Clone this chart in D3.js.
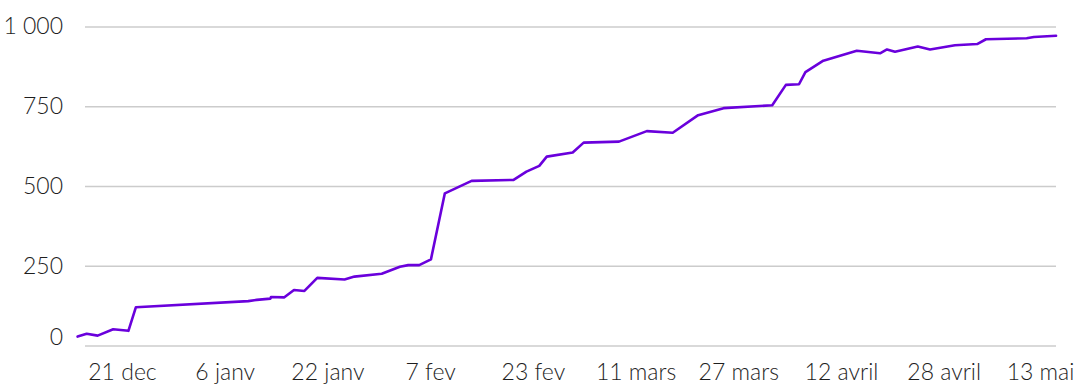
<!DOCTYPE html>
<html>
<head>
<meta charset="utf-8">
<script src="https://cdn.jsdelivr.net/npm/d3@7"></script>
<style>
  html, body { margin: 0; padding: 0; background: #ffffff; }
  svg { display: block; }
  .lbl text { font-family: Lato, "Noto Sans", sans-serif; font-size: 23px; font-weight: 300; fill: #1e1e1e; }
</style>
</head>
<body>
<svg id="chart" width="1089" height="385"></svg>
<script>
// Cumulative total, sampled at irregular times
const dates = [
  "2020-12-14 02:00", "2020-12-15 12:00", "2020-12-17 05:00", "2020-12-19 15:00",
  "2020-12-22 00:00", "2020-12-23 04:00", "2021-01-09 16:00", "2021-01-11 00:00",
  "2021-01-13 03:00", "2021-01-13 05:00", "2021-01-15 07:00", "2021-01-16 19:00",
  "2021-01-18 10:00", "2021-01-20 10:00", "2021-01-24 16:00", "2021-01-26 05:00",
  "2021-01-30 11:00", "2021-02-02 07:00", "2021-02-03 14:00", "2021-02-05 07:00",
  "2021-02-07 03:00", "2021-02-09 07:00", "2021-02-13 11:00", "2021-02-20 00:00",
  "2021-02-22 00:00", "2021-02-24 00:00", "2021-02-25 04:00", "2021-03-01 05:00",
  "2021-03-02 22:00", "2021-03-08 10:00", "2021-03-12 18:00", "2021-03-16 19:00",
  "2021-03-20 18:00", "2021-03-24 17:00", "2021-04-01 07:00", "2021-04-03 10:00",
  "2021-04-05 11:00", "2021-04-06 11:00", "2021-04-09 06:00", "2021-04-14 11:00",
  "2021-04-18 02:00", "2021-04-19 04:00", "2021-04-20 10:00", "2021-04-23 23:00",
  "2021-04-25 21:00", "2021-04-29 18:00", "2021-05-03 05:00", "2021-05-04 14:00",
  "2021-05-10 22:00", "2021-05-12 01:00", "2021-05-15 12:00"
];
const values = [
  28, 37, 31, 51,
  46, 120, 139, 143,
  147, 152, 151, 174,
  171, 212, 207, 216,
  225, 247, 252, 252,
  270, 477, 516, 519,
  545, 563, 592, 605,
  636, 639, 672, 667,
  722, 744, 753, 817,
  819, 857, 893, 924,
  916, 928, 921, 937,
  928, 941, 945, 960,
  963, 967, 971
];

// Axis ticks
const xTickDates = [
  "2020-12-21", "2021-01-06", "2021-01-22", "2021-02-07", "2021-02-23",
  "2021-03-11", "2021-03-27", "2021-04-12", "2021-04-28", "2021-05-13"
];
const xTickLabels = [
  "21 dec", "6 janv", "22 janv", "7 fev", "23 fev",
  "11 mars", "27 mars", "12 avril", "28 avril", "13 mai"
];
const yTicks = [0, 250, 500, 750, 1000];

const parseTime = d3.timeParse("%Y-%m-%d %H:%M");
const parseDay = d3.timeParse("%Y-%m-%d");
const series = dates.map((d, i) => ({ date: parseTime(d), value: values[i] }));

const svg = d3.select("#chart");

const plotLeft = 85, plotRight = 1056;
const x = d3.scaleTime()
  .domain([parseDay(xTickDates[0]), parseDay(xTickDates[xTickDates.length - 1])])
  .range([122, 1040]);
const y = d3.scaleLinear().domain([0, 1000]).range([345.5, 26.5]);

const frNum = d3.formatLocale({ decimal: ",", thousands: " ", grouping: [3], currency: ["", " €"] }).format(",");

// Horizontal gridlines
const grid = svg.append("g")
  .attr("transform", `translate(${plotLeft},0)`)
  .call(d3.axisLeft(y).tickValues(yTicks).tickSize(-(plotRight - plotLeft)).tickFormat(""));
grid.select(".domain").remove();
grid.selectAll(".tick line").attr("stroke", "#cccccc").attr("stroke-width", 1.4);

// Y labels
const yAxis = svg.append("g")
  .attr("class", "lbl")
  .attr("transform", "translate(63,0)")
  .call(d3.axisLeft(y).tickValues(yTicks).tickSize(0).tickPadding(0).tickFormat(frNum));
yAxis.select(".domain").remove();
yAxis.selectAll(".tick text")
  .attr("dy", d => d === 0 ? "-0.05em" : "0.32em");

// X labels
const xAxis = svg.append("g")
  .attr("class", "lbl")
  .attr("transform", `translate(0,${y(0)})`)
  .call(d3.axisBottom(x)
    .tickValues(xTickDates.map(parseDay))
    .tickSize(0)
    .tickFormat((d, i) => xTickLabels[i]));
xAxis.select(".domain").remove();
xAxis.selectAll(".tick text").attr("y", 34).attr("dy", 0);

// Series line
svg.append("path")
  .datum(series)
  .attr("fill", "none")
  .attr("stroke", "#6a00dc")
  .attr("stroke-width", 2.6)
  .attr("stroke-linejoin", "round")
  .attr("stroke-linecap", "round")
  .attr("d", d3.line().x(d => x(d.date)).y(d => y(d.value)));
</script>
</body>
</html>
